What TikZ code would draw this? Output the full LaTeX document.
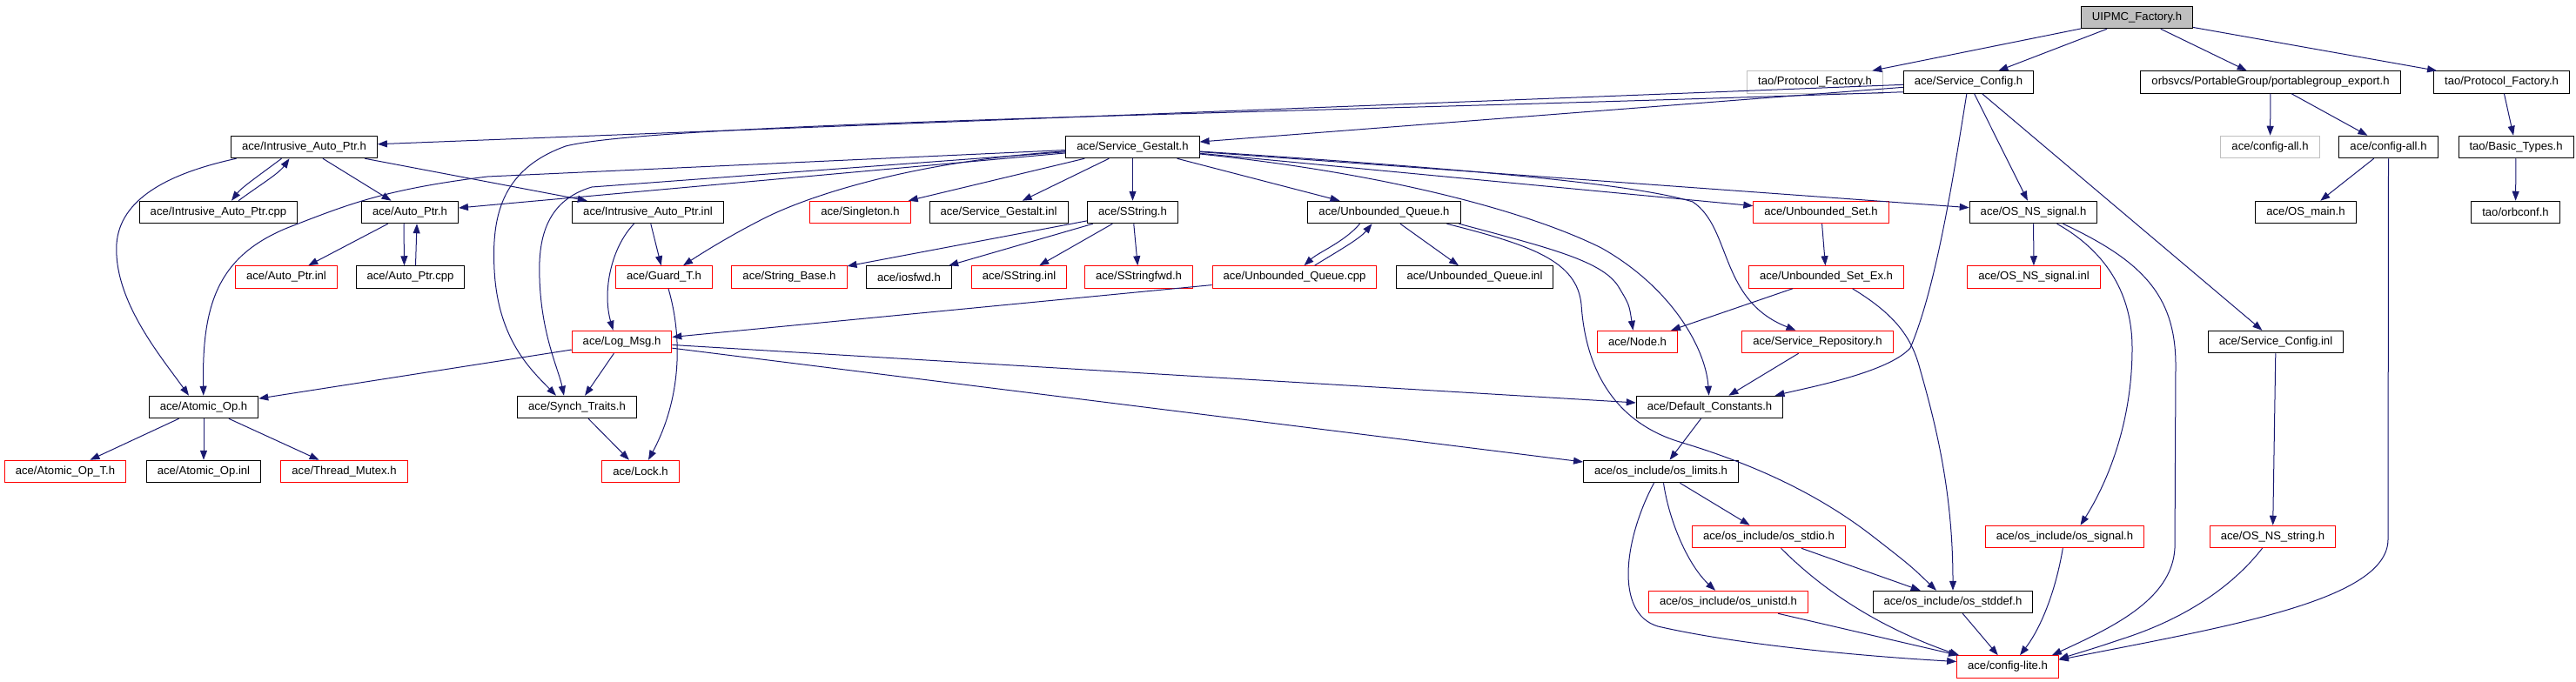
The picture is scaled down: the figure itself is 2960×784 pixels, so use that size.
\documentclass[tikz,border=0pt]{standalone}
\usepackage{fontspec}
\setmainfont{Liberation Sans}
\usetikzlibrary{arrows.meta}
\definecolor{edgeblue}{HTML}{191970}
\definecolor{boxgray}{HTML}{BFBFBF}
\begin{document}
\begin{tikzpicture}[x=1pt, y=-1pt, >={Triangle[length=11pt,width=8pt]}, line width=1pt,
	hdr/.style={draw=black, inner xsep=12.5pt, inner ysep=0pt, minimum height=25.5pt, font=\fontsize{13.1}{15}\selectfont},
	redhdr/.style={hdr, draw=red},
	grayhdr/.style={hdr, draw=boxgray},
	roothdr/.style={hdr, fill=boxgray},
	link/.style={->, edgeblue}]
		\useasboundingbox (0,0) rectangle (2960,784);
		\node[roothdr] (uipmc) at (2455.5,20) {UIPMC\_Factory.h};
		\node[grayhdr] (tpfgray) at (2085.5,94.5) {tao/Protocol\_Factory.h};
		\node[hdr] (svccfg) at (2262,94.5) {ace/Service\_Config.h};
		\node[hdr] (pgexp) at (2609,94.5) {orbsvcs/PortableGroup/portablegroup\_export.h};
		\node[hdr] (tpf) at (2874.5,94.5) {tao/Protocol\_Factory.h};
		\node[hdr] (iaph) at (349.5,169) {ace/Intrusive\_Auto\_Ptr.h};
		\node[hdr] (gestalt) at (1301.5,169) {ace/Service\_Gestalt.h};
		\node[grayhdr] (cfgallgray) at (2608.5,169) {ace/config-all.h};
		\node[hdr] (cfgall) at (2744.5,169) {ace/config-all.h};
		\node[hdr] (basictypes) at (2891,169) {tao/Basic\_Types.h};
		\node[hdr] (iapcpp) at (251,244) {ace/Intrusive\_Auto\_Ptr.cpp};
		\node[hdr] (autoptrh) at (471,244) {ace/Auto\_Ptr.h};
		\node[hdr] (iapinl) at (744.5,244) {ace/Intrusive\_Auto\_Ptr.inl};
		\node[redhdr] (singleton) at (988.5,244) {ace/Singleton.h};
		\node[hdr] (gestaltinl) at (1147.5,244) {ace/Service\_Gestalt.inl};
		\node[hdr] (sstringh) at (1301.5,244) {ace/SString.h};
		\node[hdr] (uqh) at (1590.5,244) {ace/Unbounded\_Queue.h};
		\node[redhdr] (uset) at (2092.5,244) {ace/Unbounded\_Set.h};
		\node[hdr] (nssignalh) at (2336.5,244) {ace/OS\_NS\_signal.h};
		\node[hdr] (osmain) at (2649.5,244) {ace/OS\_main.h};
		\node[hdr] (orbconf) at (2890.5,244) {tao/orbconf.h};
		\node[redhdr] (autoptrinl) at (329,318.5) {ace/Auto\_Ptr.inl};
		\node[hdr] (autoptrcpp) at (471.5,318.5) {ace/Auto\_Ptr.cpp};
		\node[redhdr] (guard) at (763,318.5) {ace/Guard\_T.h};
		\node[redhdr] (stringbase) at (907,318.5) {ace/String\_Base.h};
		\node[hdr] (iosfwd) at (1044.5,318.5) {ace/iosfwd.h};
		\node[redhdr] (sstringinl) at (1171,318.5) {ace/SString.inl};
		\node[redhdr] (sstringfwd) at (1308.5,318.5) {ace/SStringfwd.h};
		\node[redhdr] (uqcpp) at (1487.5,318.5) {ace/Unbounded\_Queue.cpp};
		\node[hdr] (uqinl) at (1694.5,318.5) {ace/Unbounded\_Queue.inl};
		\node[redhdr] (usetex) at (2098.5,318.5) {ace/Unbounded\_Set\_Ex.h};
		\node[redhdr] (nssignalinl) at (2337,318.5) {ace/OS\_NS\_signal.inl};
		\node[redhdr] (logmsg) at (714.5,393) {ace/Log\_Msg.h};
		\node[redhdr] (nodeh) at (1881.5,393) {ace/Node.h};
		\node[redhdr] (svcrepo) at (2088.5,393) {ace/Service\_Repository.h};
		\node[hdr] (svccfginl) at (2615,393) {ace/Service\_Config.inl};
		\node[hdr] (atomich) at (234,468) {ace/Atomic\_Op.h};
		\node[hdr] (synch) at (663,468) {ace/Synch\_Traits.h};
		\node[hdr] (defconst) at (1964.5,468) {ace/Default\_Constants.h};
		\node[redhdr] (atomict) at (75,542) {ace/Atomic\_Op\_T.h};
		\node[hdr] (atomicinl) at (234,542) {ace/Atomic\_Op.inl};
		\node[redhdr] (thrmutex) at (395.5,542) {ace/Thread\_Mutex.h};
		\node[redhdr] (lock) at (736,542) {ace/Lock.h};
		\node[hdr] (limits) at (1908.5,542) {ace/os\_include/os\_limits.h};
		\node[redhdr] (stdio) at (2032.5,617) {ace/os\_include/os\_stdio.h};
		\node[redhdr] (ossignal) at (2372.5,617) {ace/os\_include/os\_signal.h};
		\node[redhdr] (nsstring) at (2611.5,617) {ace/OS\_NS\_string.h};
		\node[redhdr] (unistd) at (1986,692) {ace/os\_include/os\_unistd.h};
		\node[hdr] (stddef) at (2244,692) {ace/os\_include/os\_stddef.h};
		\node[redhdr] (cfglite) at (2307,766.5) {ace/config-lite.h};
		\draw[link] (uipmc) -- (tpfgray);
		\draw[link] (uipmc) -- (svccfg);
		\draw[link] (uipmc) -- (pgexp);
		\draw[link] (uipmc) -- (tpf);
		\draw[link] (tpf) -- (basictypes);
		\draw[link] (basictypes) -- (orbconf);
		\draw[link] (pgexp) -- (cfgallgray);
		\draw[link] (pgexp) -- (cfgall);
		\draw[link] (cfgall) -- (osmain);
		\draw[link] (cfgall) -- (2744,620) .. controls (2744,690) and (2560,720) .. ([yshift=8pt]cfglite.east);
		\draw[link] (svccfg) -- (iaph);
		\draw[link] (svccfg) -- (gestalt);
		\draw[link] ([yshift=2pt]svccfg.south west) .. controls (1500,130) and (760,140) .. (650,168) .. controls (575,195) and (565,250) .. (568,310) .. controls (572,390) and (610,425) .. ([xshift=-24pt]synch.north);
		\draw[link] (svccfg) .. controls (2245,200) and (2225,330) .. (2195,400) .. controls (2170,428) and (2080,445) .. ([xshift=75pt]defconst.north);
		\draw[link] (svccfg) -- (nssignalh);
		\draw[link] (svccfg) -- (svccfginl);
		\draw[link] (gestalt) -- (autoptrh);
		\draw[link] (gestalt) -- (560,203) .. controls (440,218) and (400,235) .. (330,262) .. controls (250,295) and (232,350) .. (atomich);
		\draw[link] (gestalt) -- (680,215) .. controls (630,230) and (618,270) .. (620,320) .. controls (622,385) and (642,425) .. ([xshift=-15pt]synch.north);
		\draw[link] (gestalt) .. controls (1050,185) and (930,225) .. (880,250) .. controls (840,270) and (805,292) .. ([xshift=22pt]guard.north);
		\draw[link] (gestalt) -- (singleton);
		\draw[link] (gestalt) -- (gestaltinl);
		\draw[link] (gestalt) -- (sstringh);
		\draw[link] (gestalt) -- (uqh);
		\draw[link] (gestalt) .. controls (1600,200) and (1760,245) .. (1840,285) .. controls (1920,330) and (1960,400) .. (defconst);
		\draw[link] (gestalt) .. controls (1700,195) and (1880,212) .. (1945,232) .. controls (1990,262) and (1975,345) .. ([xshift=-25pt]svcrepo.north);
		\draw[link] (gestalt) -- (uset);
		\draw[link] (gestalt) -- (nssignalh);
		\draw[link] ([xshift=-26pt]iaph.south) .. controls (300,200) and (278,215) .. ([xshift=15pt]iapcpp.north);
		\draw[link] ([xshift=23pt]iapcpp.north) .. controls (295,215) and (320,200) .. ([xshift=-17pt]iaph.south);
		\draw[link] (iaph) -- (autoptrh);
		\draw[link] (iaph) -- (iapinl);
		\draw[link] ([xshift=-78pt]iaph.south) .. controls (190,200) and (138,230) .. (134,280) .. controls (130,345) and (185,410) .. ([xshift=-17pt]atomich.north);
		\draw[link] (autoptrh) -- (autoptrinl);
		\draw[link] ([xshift=-7pt]autoptrh.south) -- ([xshift=-7pt]autoptrcpp.north);
		\draw[link] ([xshift=6pt]autoptrcpp.north) -- ([xshift=8pt]autoptrh.south);
		\draw[link] ([xshift=-16pt]iapinl.south) .. controls (702,285) and (692,335) .. ([xshift=-10pt]logmsg.north);
		\draw[link] (iapinl) -- (guard);
		\draw[link] ([xshift=5pt]guard.south) .. controls (785,390) and (782,460) .. ([xshift=9pt]lock.north);
		\draw[link] (synch) -- (lock);
		\draw[link] (logmsg) -- (synch);
		\draw[link] (logmsg) -- (atomich);
		\draw[link] (logmsg) -- (defconst);
		\draw[link] (logmsg) -- (limits);
		\draw[link] (uqcpp) -- (logmsg);
		\draw[link] ([xshift=-28pt]uqh.south) .. controls (1545,278) and (1515,290) .. ([xshift=11pt]uqcpp.north);
		\draw[link] ([xshift=23pt]uqcpp.north) .. controls (1535,290) and (1562,275) .. ([xshift=-14pt]uqh.south);
		\draw[link] (uqh) -- (uqinl);
		\draw[link] ([xshift=-2pt]uqh.south east) .. controls (1780,285) and (1842,300) .. (1860,330) .. controls (1872,350) .. ([xshift=-5pt]nodeh.north);
		\draw[link] ([xshift=-16pt]uqh.south east) .. controls (1760,282) and (1812,300) .. (1817,350) .. controls (1822,425) and (1855,485) .. (1930,508) .. controls (2010,532) and (2085,565) .. (2150,615) .. controls (2195,650) .. ([xshift=-19pt]stddef.north);
		\draw[link] (uset) -- (usetex);
		\draw[link] (usetex) -- (nodeh);
		\draw[link] ([xshift=30pt]usetex.south) .. controls (2175,360) and (2195,385) .. (2205,420) .. controls (2222,480) and (2244,560) .. (stddef);
		\draw[link] (svcrepo) -- (defconst);
		\draw[link] (defconst) -- (limits);
		\draw[link] (limits) -- (stdio);
		\draw[link] ([xshift=3pt]limits.south) .. controls (1918,600) and (1940,650) .. ([xshift=-15pt]unistd.north);
		\draw[link] ([xshift=-8pt]limits.south) .. controls (1866,620) and (1855,705) .. (1905,720) .. controls (2000,742) and (2150,755) .. ([yshift=6pt]cfglite.west);
		\draw[link] (stdio) -- (stddef);
		\draw[link] ([xshift=14pt]stdio.south) .. controls (2088,672) and (2150,718) .. ([xshift=3pt]cfglite.north west);
		\draw[link] (unistd) -- (cfglite);
		\draw[link] (stddef) -- (cfglite);
		\draw[link] (ossignal) .. controls (2362,680) and (2345,722) .. ([xshift=14pt]cfglite.north);
		\draw[link] (nssignalh) -- (nssignalinl);
		\draw[link] ([xshift=27pt]nssignalh.south) .. controls (2422,290) and (2450,340) .. (2450,400) .. controls (2450,500) and (2412,570) .. ([xshift=18pt]ossignal.north);
		\draw[link] ([xshift=34pt]nssignalh.south) .. controls (2462,300) and (2500,340) .. (2500,420) -- (2499,630) .. controls (2496,690) and (2425,722) .. ([xshift=-8pt]cfglite.north east);
		\draw[link] (svccfginl) -- (nsstring);
		\draw[link] ([xshift=-12pt]nsstring.south) .. controls (2570,668) and (2520,708) .. (2440,734) .. controls (2410,744) .. ([yshift=9pt]cfglite.east);
		\draw[link] (sstringh) -- (stringbase);
		\draw[link] (sstringh) -- (iosfwd);
		\draw[link] (sstringh) -- (sstringinl);
		\draw[link] (sstringh) -- (sstringfwd);
		\draw[link] (atomich) -- (atomict);
		\draw[link] (atomich) -- (atomicinl);
		\draw[link] (atomich) -- (thrmutex);
		\end{tikzpicture}
\end{document}
